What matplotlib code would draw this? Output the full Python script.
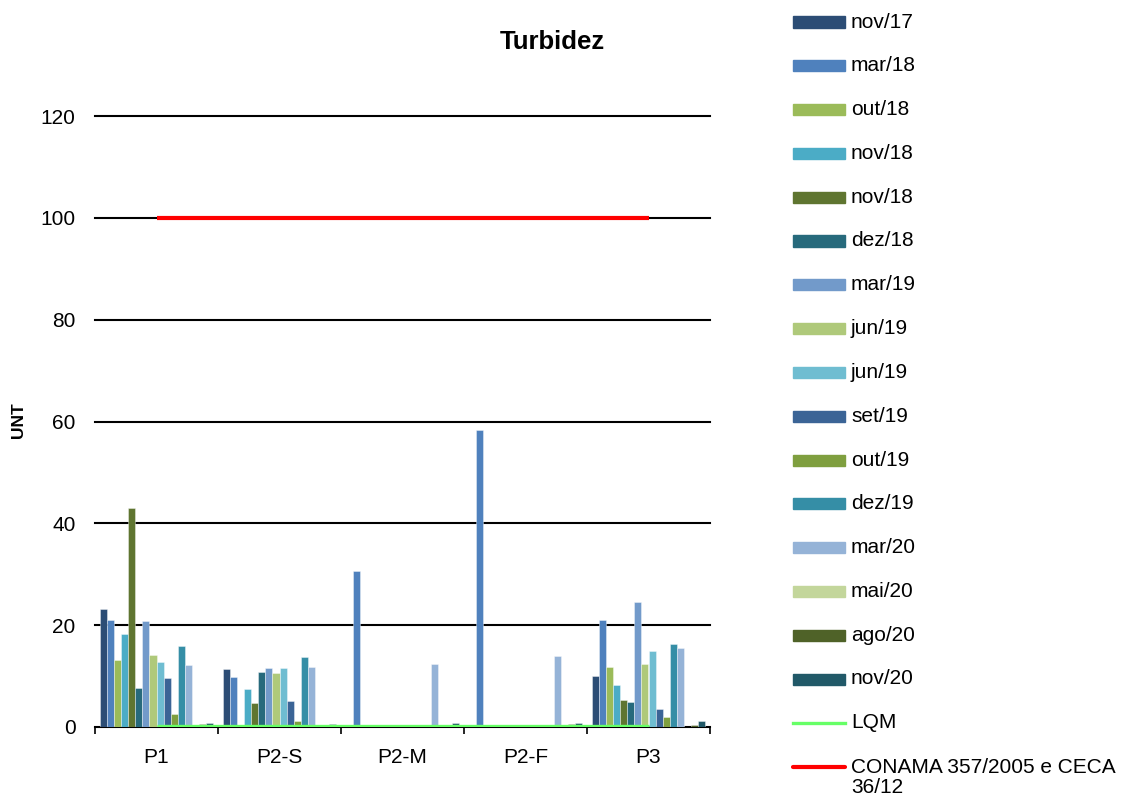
import numpy as np
import matplotlib
matplotlib.use("Agg")
import matplotlib.pyplot as plt
from matplotlib.patches import Rectangle
from matplotlib.lines import Line2D

plt.rcParams['font.family'] = ['Liberation Sans', 'DejaVu Sans']

# Sampling points
categories = ["P1", "P2-S", "P2-M", "P2-F", "P3"]

# Campaign labels (legend order)
campaigns = ["nov/17", "mar/18", "out/18", "nov/18", "nov/18", "dez/18",
             "mar/19", "jun/19", "jun/19", "set/19", "out/19", "dez/19",
             "mar/20", "mai/20", "ago/20", "nov/20"]

colors = ["#2C4D75", "#4F81BD", "#9BBB59", "#4BACC6", "#5F7530", "#276A7C",
          "#729ACA", "#AFC97A", "#6FBDD1", "#3B6496", "#7F9F3F", "#358EA6",
          "#95B3D7", "#C3D69B", "#4F6228", "#215968"]

nan = np.nan
# Turbidity (UNT) per campaign, one value per sampling point
nov17 = [23.1, 11.3, nan, nan, 10.0]
mar18 = [21.0, 9.8, 30.7, 58.4, 21.0]
out18 = [13.1, nan, nan, nan, 11.7]
nov18a = [18.2, 7.5, nan, nan, 8.2]
nov18b = [43.1, 4.7, nan, nan, 5.4]
dez18 = [7.6, 10.9, nan, nan, 5.0]
mar19 = [20.8, 11.5, nan, nan, 24.6]
jun19a = [14.2, 10.7, nan, nan, 12.3]
jun19b = [12.8, 11.5, nan, nan, 14.9]
set19 = [9.6, 5.2, nan, nan, 3.5]
out19 = [2.6, 1.2, nan, nan, 1.9]
dez19 = [16.0, 13.7, nan, nan, 16.3]
mar20 = [12.2, 11.8, 12.3, 14.0, 15.6]
mai20 = [nan, nan, nan, nan, nan]
ago20 = [0.6, nan, 0.4, 0.6, 0.3]
nov20 = [0.8, 0.5, 0.8, 0.8, 1.1]

series = [nov17, mar18, out18, nov18a, nov18b, dez18, mar19, jun19a, jun19b,
          set19, out19, dez19, mar20, mai20, ago20, nov20]

lqm = [0.15, 0.15, 0.15, 0.15, 0.15]
conama = [100, 100, 100, 100, 100]

W, H = 1123, 798
fig = plt.figure(figsize=(W / 100, H / 100), dpi=100)
ax = fig.add_axes([95 / W, (H - 727) / H, 615 / W, 611 / H])

x = np.arange(len(categories))
n = len(series)
bw = 1 / (n + 1.5)
for j, (vals, col, lab) in enumerate(zip(series, colors, campaigns)):
    ax.bar(x + (j - (n - 1) / 2) * bw, np.array(vals, dtype=float), width=bw,
           color=col, edgecolor=(1, 1, 1, 0.45), linewidth=0.6, zorder=3)

ax.plot(x, lqm, color="#66FF66", lw=2.4, zorder=4, solid_capstyle="butt")
ax.plot(x, conama, color="#FF0000", lw=3.0, zorder=4, solid_capstyle="butt")

ax.set_xlim(-0.5, len(categories) - 0.5)
ax.set_ylim(0, 120)
ax.set_yticks(np.arange(0, 121, 20))
ax.grid(axis="y", color="black", lw=1.5, zorder=1)
for gl in ax.yaxis.get_gridlines():
    gl.set_clip_on(False)
ax.set_axisbelow(True)
for s in ["left", "right", "top"]:
    ax.spines[s].set_visible(False)
ax.spines["bottom"].set_color("black")
ax.spines["bottom"].set_linewidth(1.2)

ax.set_xticks(x)
ax.set_xticklabels(categories)
ax.set_xticks(np.arange(-0.5, len(categories), 1), minor=True)
ax.tick_params(axis="x", which="major", length=0, pad=15, labelsize=15)
ax.tick_params(axis="x", which="minor", length=5, width=1.2, color="black")
ax.tick_params(axis="y", length=0, pad=14, labelsize=15)

fig.text(552 / W, 1 - 42 / H, "Turbidez", ha="center", va="center",
         fontsize=18.5, fontweight="bold")
fig.text(19 / W, 1 - 420 / H, "UNT", ha="center", va="center",
         rotation=90, fontsize=12.5, fontweight="bold")

# Legend drawn in figure pixels
step = 43.8
y0 = 22
for k, (lab, col) in enumerate(zip(campaigns, colors)):
    yc = y0 + k * step
    fig.add_artist(Rectangle((793 / W, 1 - (yc + 5.5) / H), 52 / W, 11 / H,
                             transform=fig.transFigure, color=col))
    fig.text(851 / W, 1 - yc / H, lab, ha="left", va="center", fontsize=15)

yc = y0 + n * step
fig.add_artist(Line2D([793 / W, 845 / W], [1 - yc / H, 1 - yc / H],
                      transform=fig.transFigure, color="#66FF66", lw=2.4))
fig.text(851 / W, 1 - yc / H, "LQM", ha="left", va="center", fontsize=15)
yc = y0 + (n + 1) * step
fig.add_artist(Line2D([793 / W, 845 / W], [1 - yc / H, 1 - yc / H],
                      transform=fig.transFigure, color="#FF0000", lw=3.0,
                      solid_capstyle="round"))
fig.text(851 / W, 1 - (yc - 9) / H, "CONAMA 357/2005 e CECA\n36/12",
         ha="left", va="top", fontsize=15, linespacing=1.1)

fig.savefig("out.png", dpi=100)
